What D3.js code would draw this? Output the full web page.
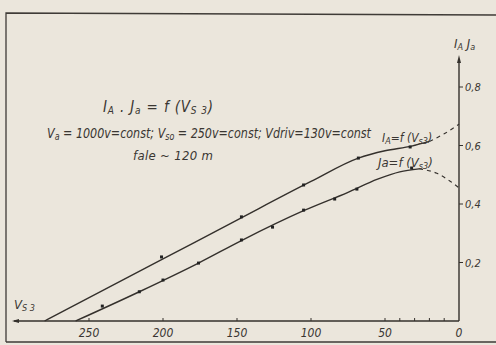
<!DOCTYPE html>
<html>
<head>
<meta charset="utf-8">
<script src="https://cdn.jsdelivr.net/npm/d3@7/dist/d3.min.js"></script>
<style>
  body { margin: 0; background: #ebe6dc; }
  text { font-family: "Liberation Sans Narrow", "DejaVu Sans Condensed", "DejaVu Sans", sans-serif; font-style: italic; fill: #3a3632; }
</style>
</head>
<body>
<div class="chart"></div>
<script>
(function(){

  var width = 496, height = 345

  // measured points (V_s3 in volts, current in A)
  var iaPointV = [201, 147, 105, 68, 33]
  var iaPointI = [0.219, 0.356, 0.465, 0.557, 0.595]
  var jaPointV = [241, 216, 200, 176, 147, 126, 105, 84, 69, 32]
  var jaPointI = [0.051, 0.10, 0.14, 0.198, 0.277, 0.321, 0.379, 0.417, 0.451, 0.523]

  // drawn curves, solid part and dashed extrapolation
  var iaCurveV = [280, 200, 150, 100, 68, 50, 32, 20]
  var iaCurveI = [0, 0.212, 0.345, 0.477, 0.557, 0.582, 0.598, 0.614]
  var iaDashV = [20, 10, 0]
  var iaDashI = [0.614, 0.64, 0.673]
  var jaCurveV = [259, 216, 176, 147, 105, 75, 55, 40, 27]
  var jaCurveI = [0, 0.1, 0.198, 0.275, 0.377, 0.44, 0.485, 0.51, 0.52]
  var jaDashV = [27, 15, 6, 0]
  var jaDashI = [0.52, 0.505, 0.478, 0.455]

  var xTicks = [250, 200, 150, 100, 50, 0]
  var xMinorTicks = [10, 20, 30, 40]
  var yTicks = [0.2, 0.4, 0.6, 0.8]
  var yTickLabels = ['0,2', '0,4', '0,6', '0,8']

  var ink = '#34302c'

  var svg = d3.select('.chart').append('svg')
    .attr('width', width)
    .attr('height', height)

  svg.append('rect')
    .attr('width', width).attr('height', height)
    .style('fill', '#ebe6dc')

  // frame of the plate
  svg.append('path')
    .attr('d', 'M6,342 L6,13 L496,15 M6,342 L496,342')
    .style('fill', 'none')
    .style('stroke', '#3f3b37')
    .style('stroke-width', 1.3)

  var x = d3.scaleLinear().domain([0, 250]).range([459, 89])
  var y = d3.scaleLinear().domain([0, 0.8]).range([321, 87])

  var zip = function(a, b){ return a.map(function(v, i){ return [v, b[i]] }) }

  var line = d3.line()
    .x(function(d){ return x(d[0]) })
    .y(function(d){ return y(d[1]) })
    .curve(d3.curveMonotoneX)

  // axes
  svg.append('line')
    .attr('x1', x(0)).attr('y1', y(0))
    .attr('x2', 14).attr('y2', y(0))
    .style('stroke', ink).style('stroke-width', 1.4)
  svg.append('path')
    .attr('d', 'M12,' + y(0) + ' l7,-2 l0,4 z')
    .style('fill', ink)

  svg.append('line')
    .attr('x1', x(0)).attr('y1', y(0))
    .attr('x2', x(0)).attr('y2', 60)
    .style('stroke', ink).style('stroke-width', 1.4)
  svg.append('path')
    .attr('d', 'M' + x(0) + ',55 l-2,8 l4,0 z')
    .style('fill', ink)

  svg.selectAll('.xminor')
    .data(xMinorTicks.concat([50, 100, 150, 200, 250]))
    .enter().append('line')
    .attr('x1', function(d){ return x(d) }).attr('x2', function(d){ return x(d) })
    .attr('y1', y(0)).attr('y2', y(0) - 3)
    .style('stroke', ink).style('stroke-width', 1)

  svg.selectAll('.xlab')
    .data(xTicks)
    .enter().append('text')
    .attr('x', function(d){ return x(d) })
    .attr('y', 337)
    .attr('text-anchor', 'middle')
    .style('font-size', '12px')
    .text(function(d){ return d })

  svg.selectAll('.ytick')
    .data(yTicks)
    .enter().append('line')
    .attr('x1', x(0)).attr('x2', x(0) + 4)
    .attr('y1', function(d){ return y(d) }).attr('y2', function(d){ return y(d) })
    .style('stroke', ink).style('stroke-width', 1)

  svg.selectAll('.ylab')
    .data(yTicks)
    .enter().append('text')
    .attr('x', x(0) + 6)
    .attr('y', function(d){ return y(d) + 4 })
    .style('font-size', '11px')
    .text(function(d, i){ return yTickLabels[i] })

  // curves
  var solid = [zip(iaCurveV, iaCurveI), zip(jaCurveV, jaCurveI)]
  var dashed = [zip(iaDashV, iaDashI), zip(jaDashV, jaDashI)]

  svg.selectAll('.curve')
    .data(solid)
    .enter().append('path')
    .attr('d', line)
    .style('fill', 'none').style('stroke', ink).style('stroke-width', 1.4)

  svg.selectAll('.dash')
    .data(dashed)
    .enter().append('path')
    .attr('d', line)
    .style('fill', 'none').style('stroke', ink).style('stroke-width', 1.1)
    .style('stroke-dasharray', '4,4')

  svg.selectAll('.dot')
    .data(zip(iaPointV, iaPointI).concat(zip(jaPointV, jaPointI)))
    .enter().append('rect')
    .attr('x', function(d){ return x(d[0]) - 1.5 })
    .attr('y', function(d){ return y(d[1]) - 1.5 })
    .attr('width', 3).attr('height', 3)
    .style('fill', '#222')

  // texts, subscripts only slightly lowered
  function sub(t, parts, size){
    parts.forEach(function(p){
      var s = t.append('tspan').text(p[0])
      if (p[1]) s.attr('baseline-shift', '-2').style('font-size', size)
    })
  }

  var title = svg.append('text').attr('x', 103).attr('y', 112).style('font-size', '15px')
    .attr('textLength', 110).attr('lengthAdjust', 'spacing')
  sub(title, [['I'], ['A', 1], [' . J'], ['a', 1], ['  = f  (V'], ['S 3', 1], [')']], '10px')

  var cond = svg.append('text').attr('x', 47).attr('y', 138).style('font-size', '14px')
    .attr('textLength', 324).attr('lengthAdjust', 'spacingAndGlyphs')
  sub(cond, [['V'], ['a', 1], [' = 1000v=const;  V'], ['so', 1], [' = 250v=const;  Vdriv=130v=const']], '10px')

  svg.append('text').attr('x', 133).attr('y', 160).style('font-size', '13px')
    .attr('textLength', 80).attr('lengthAdjust', 'spacing')
    .text('fale ~ 120 m')

  var iaLab = svg.append('text').attr('x', 382).attr('y', 142).style('font-size', '12px')
  sub(iaLab, [['I'], ['A', 1], ['=f (V'], ['s3', 1], [')']], '9px')

  var jaLab = svg.append('text').attr('x', 378).attr('y', 167).style('font-size', '13px')
  sub(jaLab, [['Ja=f (V'], ['s3', 1], [')']], '9px')

  var yTitle = svg.append('text').attr('x', 454).attr('y', 48).style('font-size', '13px')
  sub(yTitle, [['I'], ['A', 1], [' J'], ['a', 1]], '9px')

  var xTitle = svg.append('text').attr('x', 14).attr('y', 309).style('font-size', '13px')
  sub(xTitle, [['V'], ['S 3', 1]], '9px')

})()
</script>
</body>
</html>
